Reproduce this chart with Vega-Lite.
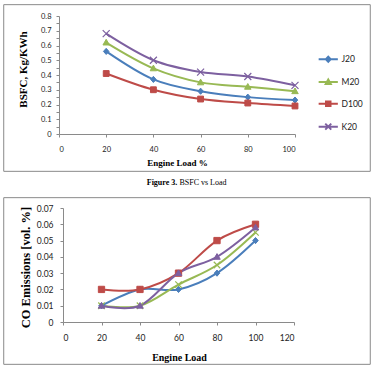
{
  "$schema": "https://vega.github.io/schema/vega-lite/v6.json",
  "padding": {"left": 3, "top": 4, "right": 5, "bottom": 5},
  "background": "white",
  "config": {
    "view": {"stroke": null},
    "axis": {"grid": false, "domainColor": "#8a8a8a", "tickColor": "#8a8a8a", "labelColor": "#222222", "labelFont": "Lato", "titleFont": "Liberation Serif", "titleFontWeight": "bold", "titleColor": "#000000", "tickSize": 3},
    "legend": {"orient": "none", "title": null, "symbolSize": 36, "symbolStrokeWidth": 2, "labelFont": "Lato", "labelFontSize": 8.5, "labelColor": "#222222", "labelOffset": 9, "padding": 0, "symbolOpacity": 1}
  },
  "datasets": {
    "bsfc": [
      {"fuel": "J20", "load": 20, "value": 0.56}, {"fuel": "J20", "load": 40, "value": 0.37}, {"fuel": "J20", "load": 60, "value": 0.29}, {"fuel": "J20", "load": 80, "value": 0.25}, {"fuel": "J20", "load": 100, "value": 0.23},
      {"fuel": "M20", "load": 20, "value": 0.62}, {"fuel": "M20", "load": 40, "value": 0.445}, {"fuel": "M20", "load": 60, "value": 0.35}, {"fuel": "M20", "load": 80, "value": 0.32}, {"fuel": "M20", "load": 100, "value": 0.29},
      {"fuel": "D100", "load": 20, "value": 0.41}, {"fuel": "D100", "load": 40, "value": 0.30}, {"fuel": "D100", "load": 60, "value": 0.237}, {"fuel": "D100", "load": 80, "value": 0.21}, {"fuel": "D100", "load": 100, "value": 0.19},
      {"fuel": "K20", "load": 20, "value": 0.68}, {"fuel": "K20", "load": 40, "value": 0.50}, {"fuel": "K20", "load": 60, "value": 0.42}, {"fuel": "K20", "load": 80, "value": 0.39}, {"fuel": "K20", "load": 100, "value": 0.33}
    ],
    "co": [
      {"fuel": "J20", "load": 20, "value": 0.01}, {"fuel": "J20", "load": 40, "value": 0.02}, {"fuel": "J20", "load": 60, "value": 0.02}, {"fuel": "J20", "load": 80, "value": 0.03}, {"fuel": "J20", "load": 100, "value": 0.05},
      {"fuel": "M20", "load": 20, "value": 0.01}, {"fuel": "M20", "load": 40, "value": 0.01}, {"fuel": "M20", "load": 60, "value": 0.023}, {"fuel": "M20", "load": 80, "value": 0.035}, {"fuel": "M20", "load": 100, "value": 0.055},
      {"fuel": "D100", "load": 20, "value": 0.02}, {"fuel": "D100", "load": 40, "value": 0.02}, {"fuel": "D100", "load": 60, "value": 0.03}, {"fuel": "D100", "load": 80, "value": 0.05}, {"fuel": "D100", "load": 100, "value": 0.06},
      {"fuel": "K20", "load": 20, "value": 0.01}, {"fuel": "K20", "load": 40, "value": 0.01}, {"fuel": "K20", "load": 60, "value": 0.03}, {"fuel": "K20", "load": 80, "value": 0.04}, {"fuel": "K20", "load": 100, "value": 0.058}
    ],
    "frame": [{"part": "frame"}]
  },
  "bounds": "flush",
  "spacing": 25,
  "vconcat": [
    {
      "width": 368,
      "height": 168,
      "title": {"text": "Figure 3.", "orient": "bottom", "anchor": "middle", "frame": "group", "dx": -25, "offset": 7, "font": "Liberation Serif", "fontSize": 8, "fontWeight": "bold", "color": "#000000"},
      "resolve": {"scale": {"x": "independent", "y": "independent"}},
      "layer": [
        {
          "data": {"name": "frame"},
          "mark": {"type": "rect", "fill": "transparent", "stroke": "#8a8a8a", "strokeWidth": 1},
          "encoding": {
            "x": {"datum": 0, "type": "quantitative", "scale": {"domain": [-0.002, 1.002], "nice": false, "zero": false}, "axis": null},
            "x2": {"datum": 1},
            "y": {"datum": 0, "type": "quantitative", "scale": {"domain": [-0.004, 1.004], "nice": false, "zero": false}, "axis": null},
            "y2": {"datum": 1}
          }
        },
        {
          "data": {"name": "bsfc"},
          "encoding": {
            "x": {"field": "load", "type": "quantitative", "scale": {"domain": [0, 100], "range": [56, 292], "nice": false, "zero": false},
              "axis": {"orient": "bottom", "values": [0, 20, 40, 60, 80, 100], "offset": -38, "title": "Engine Load %", "titleFontSize": 9, "titleX": 174, "titleY": 28, "titleBaseline": "middle", "titleAlign": "center", "labelFontSize": 7.5, "labelPadding": 8}},
            "y": {"field": "value", "type": "quantitative", "scale": {"domain": [0, 0.8], "range": [130, 12], "nice": false},
              "axis": {"orient": "left", "values": [0, 0.05, 0.1, 0.15, 0.2, 0.25, 0.3, 0.35, 0.4, 0.45, 0.5, 0.55, 0.6, 0.65, 0.7, 0.75, 0.8], "format": "~g", "offset": -56, "title": "BSFC, Kg/KWh", "titleFontSize": 11, "titleX": -36, "titleY": 65, "titleAngle": -90, "titleBaseline": "middle", "titleAlign": "center", "labelFontSize": 7.5, "labelPadding": 5}},
            "stroke": {"field": "fuel", "type": "nominal", "scale": {"domain": ["J20", "M20", "D100", "K20"], "range": ["#4A7EBB", "#98B954", "#BE4B48", "#7D60A0"]}}
          },
          "layer": [
            {"mark": {"type": "line", "interpolate": "cardinal", "strokeWidth": 2}},
            {"transform": [{"filter": {"field": "fuel", "equal": "J20"}}], "mark": {"type": "point", "shape": "M0,-0.95L0.85,0L0,0.95L-0.85,0Z", "filled": true, "size": 42, "strokeWidth": 1, "opacity": 1},
              "encoding": {"fill": {"field": "fuel", "type": "nominal", "scale": {"domain": ["J20", "M20", "D100", "K20"], "range": ["#4A7EBB", "#98B954", "#BE4B48", "#7D60A0"]}}}},
            {"transform": [{"filter": {"field": "fuel", "equal": "M20"}}], "mark": {"type": "point", "shape": "M0,-1L1,0.75L-1,0.75Z", "filled": true, "size": 42, "strokeWidth": 1, "opacity": 1},
              "encoding": {"fill": {"field": "fuel", "type": "nominal", "scale": {"domain": ["J20", "M20", "D100", "K20"], "range": ["#4A7EBB", "#98B954", "#BE4B48", "#7D60A0"]}}}},
            {"transform": [{"filter": {"field": "fuel", "equal": "D100"}}], "mark": {"type": "point", "shape": "M-0.9,-0.9L0.9,-0.9L0.9,0.9L-0.9,0.9Z", "filled": true, "size": 42, "strokeWidth": 1, "opacity": 1},
              "encoding": {"fill": {"field": "fuel", "type": "nominal", "scale": {"domain": ["J20", "M20", "D100", "K20"], "range": ["#4A7EBB", "#98B954", "#BE4B48", "#7D60A0"]}}}},
            {"transform": [{"filter": {"field": "fuel", "equal": "K20"}}], "mark": {"type": "point", "shape": "M-1,-1L1,1M-1,1L1,-1", "filled": true, "size": 49, "strokeWidth": 1.2, "opacity": 1},
              "encoding": {"fill": {"field": "fuel", "type": "nominal", "scale": {"domain": ["J20", "M20", "D100", "K20"], "range": ["#4A7EBB", "#98B954", "#BE4B48", "#7D60A0"]}}}},
            {"mark": {"type": "point", "filled": true, "size": 36, "opacity": 0},
              "encoding": {
                "fill": {"field": "fuel", "type": "nominal", "scale": {"domain": ["J20", "M20", "D100", "K20"], "range": ["#4A7EBB", "#98B954", "#BE4B48", "#7D60A0"]}},
                "shape": {"field": "fuel", "type": "nominal", "scale": {"domain": ["J20", "M20", "D100", "K20"], "range": ["M-3.2,0L3.2,0M0,-0.85L0.8,0L0,0.85L-0.8,0Z", "M-3.2,0L3.2,0M0,-0.85L0.85,0.65L-0.85,0.65Z", "M-3.2,0L3.2,0M-0.75,-0.75L0.75,-0.75L0.75,0.75L-0.75,0.75Z", "M-3.2,0L3.2,0M-1,-1L1,1M-1,1L1,-1"]},
                  "legend": {"legendX": 321, "legendY": 51, "rowPadding": 8.8}}
              }}
          ]
        }
      ]
    },
    {
      "width": 368,
      "height": 168,
      "title": {"text": "BSFC vs Load", "orient": "top", "anchor": "middle", "frame": "group", "dx": 16, "offset": 10, "font": "Liberation Serif", "fontSize": 8, "fontWeight": "normal", "color": "#000000"},
      "resolve": {"scale": {"x": "independent", "y": "independent"}},
      "layer": [
        {
          "data": {"name": "frame"},
          "mark": {"type": "rect", "fill": "transparent", "stroke": "#8a8a8a", "strokeWidth": 1},
          "encoding": {
            "x": {"datum": 0, "type": "quantitative", "scale": {"domain": [-0.002, 1.002], "nice": false, "zero": false}, "axis": null},
            "x2": {"datum": 1},
            "y": {"datum": 0, "type": "quantitative", "scale": {"domain": [-0.004, 1.004], "nice": false, "zero": false}, "axis": null},
            "y2": {"datum": 1}
          }
        },
        {
          "data": {"name": "co"},
          "encoding": {
            "x": {"field": "load", "type": "quantitative", "scale": {"domain": [0, 120], "range": [60, 291], "nice": false, "zero": false},
              "axis": {"orient": "bottom", "values": [0, 20, 40, 60, 80, 100, 120], "offset": -43, "title": "Engine Load", "titleFontSize": 10, "titleX": 176, "titleY": 35, "titleBaseline": "middle", "titleAlign": "center", "labelFontSize": 8.5, "labelPadding": 8}},
            "y": {"field": "value", "type": "quantitative", "scale": {"domain": [0, 0.07], "range": [125, 11], "nice": false},
              "axis": {"orient": "left", "values": [0, 0.01, 0.02, 0.03, 0.04, 0.05, 0.06, 0.07], "format": "~g", "offset": -60, "title": "CO Emissions [vol. %]", "titleFontSize": 12.5, "titleX": -38, "titleY": 70, "titleAngle": -90, "titleBaseline": "middle", "titleAlign": "center", "labelFontSize": 8.5, "labelPadding": 7}},
            "stroke": {"field": "fuel", "type": "nominal", "scale": {"domain": ["J20", "M20", "D100", "K20"], "range": ["#4A7EBB", "#7D60A0", "#BE4B48", "#98B954"]}}
          },
          "layer": [
            {"mark": {"type": "line", "interpolate": "cardinal", "strokeWidth": 2}},
            {"transform": [{"filter": {"field": "fuel", "equal": "J20"}}], "mark": {"type": "point", "shape": "M0,-0.95L0.85,0L0,0.95L-0.85,0Z", "filled": true, "size": 42, "strokeWidth": 1, "opacity": 1},
              "encoding": {"fill": {"field": "fuel", "type": "nominal", "scale": {"domain": ["J20", "M20", "D100", "K20"], "range": ["#4A7EBB", "#7D60A0", "#BE4B48", "#98B954"]}}}},
            {"transform": [{"filter": {"field": "fuel", "equal": "M20"}}], "mark": {"type": "point", "shape": "M-1,-1L1,1M-1,1L1,-1", "filled": true, "size": 42, "strokeWidth": 1.2, "opacity": 1},
              "encoding": {"fill": {"field": "fuel", "type": "nominal", "scale": {"domain": ["J20", "M20", "D100", "K20"], "range": ["#4A7EBB", "#7D60A0", "#BE4B48", "#98B954"]}}}},
            {"transform": [{"filter": {"field": "fuel", "equal": "D100"}}], "mark": {"type": "point", "shape": "M-0.9,-0.9L0.9,-0.9L0.9,0.9L-0.9,0.9Z", "filled": true, "size": 49, "strokeWidth": 1, "opacity": 1},
              "encoding": {"fill": {"field": "fuel", "type": "nominal", "scale": {"domain": ["J20", "M20", "D100", "K20"], "range": ["#4A7EBB", "#7D60A0", "#BE4B48", "#98B954"]}}}},
            {"transform": [{"filter": {"field": "fuel", "equal": "K20"}}], "mark": {"type": "point", "shape": "M0,-1L1,0.75L-1,0.75Z", "filled": true, "size": 42, "strokeWidth": 1, "opacity": 1},
              "encoding": {"fill": {"field": "fuel", "type": "nominal", "scale": {"domain": ["J20", "M20", "D100", "K20"], "range": ["#4A7EBB", "#7D60A0", "#BE4B48", "#98B954"]}}}},
            {"mark": {"type": "point", "filled": true, "size": 36, "opacity": 0},
              "encoding": {
                "fill": {"field": "fuel", "type": "nominal", "scale": {"domain": ["J20", "M20", "D100", "K20"], "range": ["#4A7EBB", "#7D60A0", "#BE4B48", "#98B954"]}},
                "shape": {"field": "fuel", "type": "nominal", "scale": {"domain": ["J20", "M20", "D100", "K20"], "range": ["M-3.2,0L3.2,0M0,-0.85L0.8,0L0,0.85L-0.8,0Z", "M-3.2,0L3.2,0M-1,-1L1,1M-1,1L1,-1", "M-3.2,0L3.2,0M-0.75,-0.75L0.75,-0.75L0.75,0.75L-0.75,0.75Z", "M-3.2,0L3.2,0M0,-0.85L0.85,0.65L-0.85,0.65Z"]},
                  "legend": {"legendX": 321, "legendY": 53, "rowPadding": 8.4}}
              }}
          ]
        }
      ]
    }
  ]
}
